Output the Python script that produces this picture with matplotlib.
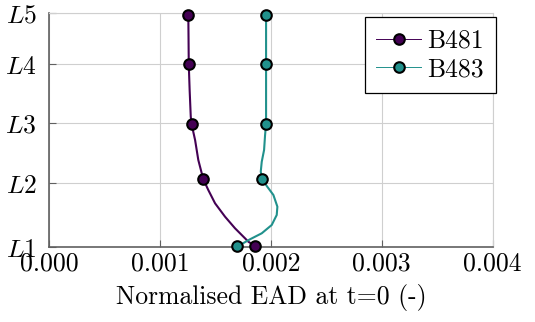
import numpy as np
import matplotlib
matplotlib.use("Agg")
import matplotlib.pyplot as plt
from matplotlib.ticker import FormatStrFormatter

plt.rcParams['font.family'] = 'serif'
plt.rcParams['font.serif'] = ['cmr10']
plt.rcParams['mathtext.fontset'] = 'cm'
plt.rcParams['axes.formatter.use_mathtext'] = True

# storey levels (height positions of L1..L5) and labels
level_pos = [0.0, 2.735, 5.29, 7.806, 10.0]
level_labels = ['$L1$', '$L2$', '$L3$', '$L4$', '$L5$']
x_ticks = [0.0, 0.001, 0.002, 0.003, 0.004]

# marker values
b481_x = [0.001853, 0.001391, 0.001285, 0.001260, 0.001256]
b481_y = [0.077, 2.906, 5.262, 7.806, 9.906]
b483_x = [0.001691, 0.001923, 0.001957, 0.001957, 0.001957]
b483_y = [0.064, 2.906, 5.262, 7.806, 9.906]

# profile curves (bottom to top)
b481_curve_x = [0.001853, 0.001797, 0.001767, 0.001677, 0.001587, 0.001497,
                0.001436, 0.001391, 0.001346, 0.001317, 0.001285, 0.001278,
                0.001268, 0.001260, 0.001258, 0.001256]
b481_curve_y = [0.077, 0.247, 0.392, 0.818, 1.312, 1.883,
                2.450, 2.906, 3.728, 4.580, 5.262, 5.573,
                6.700, 7.806, 8.900, 9.906]
b483_curve_x = [0.001691, 0.001738, 0.001812, 0.001918, 0.002008, 0.002053,
                0.002059, 0.002023, 0.001963, 0.001923, 0.001909, 0.001918,
                0.001939, 0.001948, 0.001957, 0.001957, 0.001957, 0.001957]
b483_curve_y = [0.064, 0.149, 0.349, 0.605, 0.959, 1.385,
                1.738, 2.237, 2.620, 2.906, 3.230, 3.656,
                4.154, 4.793, 5.262, 5.859, 7.806, 9.906]

purple = '#440154'
teal = '#21918c'
grid_col = '#cfcfcf'
axis_col = '#606060'

fig = plt.figure(figsize=(5.35, 3.22), dpi=100)
ax = fig.add_axes([0.0916, 0.2314, 0.8293, 0.7289])

ax.plot(b481_curve_x, b481_curve_y, color=purple, lw=1.5, zorder=3,
        solid_capstyle='round', solid_joinstyle='round', clip_on=False)
ax.plot(b483_curve_x, b483_curve_y, color=teal, lw=1.5, zorder=3,
        solid_capstyle='round', solid_joinstyle='round', clip_on=False)
ax.plot(b481_x, b481_y, ls='none', marker='o', ms=7.6, mfc=purple, mec='black',
        mew=1.5, zorder=4, clip_on=False)
ax.plot(b483_x, b483_y, ls='none', marker='o', ms=7.6, mfc=teal, mec='black',
        mew=1.5, zorder=4, clip_on=False)

# legend proxies
h1, = ax.plot([], [], color=purple, lw=0.7, marker='o', ms=7.6, mfc=purple,
              mec='black', mew=1.5)
h2, = ax.plot([], [], color=teal, lw=0.7, marker='o', ms=7.6, mfc=teal,
              mec='black', mew=1.5)

ax.set_xlim(0, 0.004)
ax.set_ylim(0, 10)
ax.set_xticks(x_ticks)
ax.xaxis.set_major_formatter(FormatStrFormatter('%.3f'))
ax.set_yticks(level_pos)
ax.set_yticklabels(level_labels)
ax.tick_params(direction='in', length=5, width=0.8, color=axis_col,
               labelsize=18.5, pad=3)
ax.tick_params(axis='y', pad=9)
ax.grid(True, color=grid_col, lw=0.8)
ax.set_axisbelow(True)

for side in ['left', 'bottom']:
    ax.spines[side].set_color(axis_col)
    ax.spines[side].set_linewidth(1.2)
for side in ['top', 'right']:
    ax.spines[side].set_color(grid_col)
    ax.spines[side].set_linewidth(0.8)

ax.set_xlabel('Normalised EAD at t=0 (-)', fontsize=18.5, labelpad=6)

leg = ax.legend([h1, h2], ['B481', 'B483'], loc='upper right',
                bbox_to_anchor=(1.0068, 0.981), borderaxespad=0,
                fontsize=18.5, fancybox=False, framealpha=1,
                edgecolor='black', handlelength=1.75, handletextpad=0.25,
                borderpad=0.45, labelspacing=0.2)
leg.get_frame().set_linewidth(0.9)

fig.savefig('out.png', dpi=100)
